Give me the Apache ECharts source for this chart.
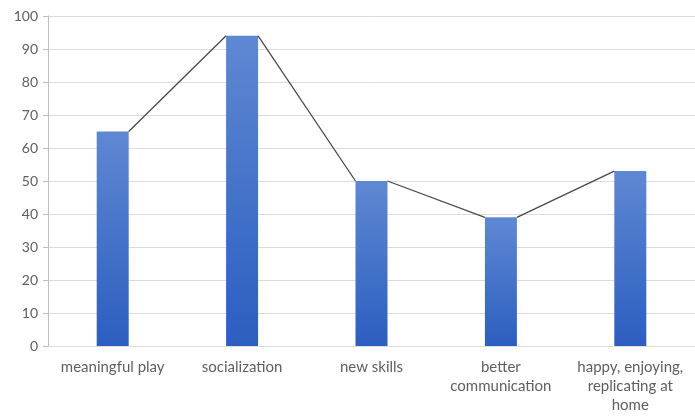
<!DOCTYPE html>
<html>
<head>
<meta charset="utf-8">
<script src="https://cdn.jsdelivr.net/npm/echarts@6/dist/echarts.min.js"></script>
<style>
  html, body { margin: 0; padding: 0; background: #fff; }
  #main { width: 695px; height: 416px; }
</style>
</head>
<body>
<div id="main"></div>
<script>
const categories = ['meaningful play', 'socialization', 'new skills', 'better\ncommunication', 'happy, enjoying,\nreplicating at\nhome'];
const values = [65, 94, 50, 39, 53];
const yTicks = { min: 0, max: 100, interval: 10 };

let chart = echarts.init(document.getElementById('main'));

const barWidth = 32;
const gridLeft = 48;
const gridRight = 0;
const band = (695 - gridLeft - gridRight) / categories.length;
const half = (barWidth / 2) / band;

// line runs from the top right corner of one bar to the top left corner of the next
let linePoints = [];
for (let i = 0; i < values.length - 1; i++) {
  linePoints.push([i + 0.5 + half, values[i]]);
  linePoints.push([i + 1.5 - half, values[i + 1]]);
  linePoints.push('-');
}

let option = {
  animation: false,
  grid: { left: gridLeft, right: gridRight, top: 16, bottom: 70 },
  textStyle: { fontFamily: 'Lato' },
  xAxis: [{
    type: 'category',
    data: categories,
    axisLine: { show: false },
    axisTick: { show: false },
    axisLabel: { color: '#5f5f5f', fontSize: 15, margin: 12, lineHeight: 19, interval: 0 }
  }, {
    type: 'value',
    min: 0,
    max: categories.length,
    show: false
  }],
  yAxis: {
    type: 'value',
    min: yTicks.min,
    max: yTicks.max,
    interval: yTicks.interval,
    axisLine: { show: true, lineStyle: { color: '#bfbfbf' } },
    axisTick: { show: true, length: 5, lineStyle: { color: '#bfbfbf' } },
    axisLabel: { color: '#5f5f5f', fontSize: 14, margin: 10 },
    splitLine: { lineStyle: { color: '#dcdcdc' } }
  },
  series: [{
    type: 'bar',
    data: values,
    barWidth: barWidth,
    itemStyle: {
      color: new echarts.graphic.LinearGradient(0, 0, 0, 1, [
        { offset: 0, color: '#5f88d3' },
        { offset: 1, color: '#2c5ec0' }
      ])
    }
  }, {
    type: 'line',
    xAxisIndex: 1,
    data: linePoints,
    symbol: 'none',
    connectNulls: false,
    z: 3,
    lineStyle: { color: '#4a4a4a', width: 1.3 }
  }]
};

chart.setOption(option);
</script>
</body>
</html>
